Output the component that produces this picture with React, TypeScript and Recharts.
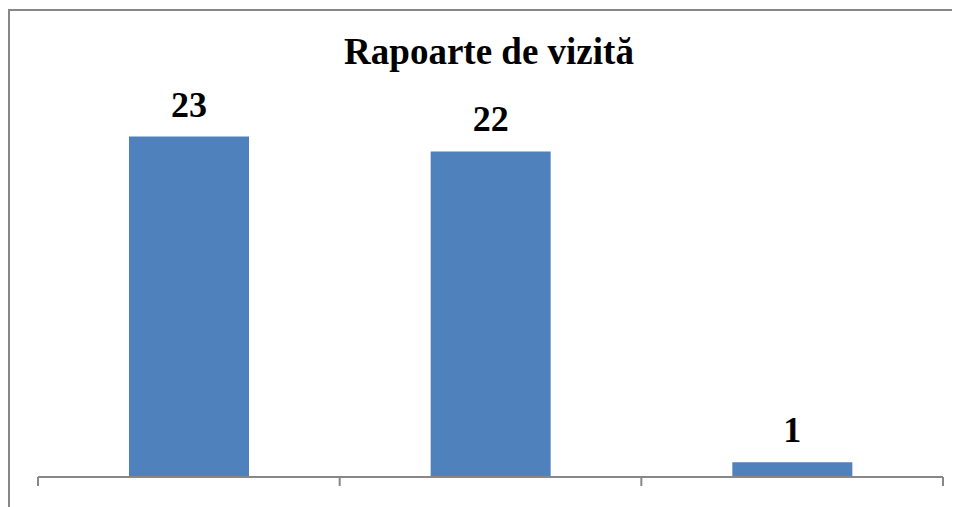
import React from "react";
import { BarChart, Bar, XAxis, YAxis, LabelList } from "recharts";

const categories = ["A", "B", "C"];
const values = [23, 22, 1];

const data = categories.map((name, i) => ({ name, value: values[i] }));

const serif = '"Liberation Serif", "Times New Roman", Times, serif';
const axisColor = "#878787";

const CHART_W = 950;
const MARGIN = { top: 96, right: 17, bottom: 10, left: 28 };
const BAND = (CHART_W - MARGIN.left - MARGIN.right) / categories.length;

// category ticks sit at band centres; the reference draws them on the band edges
const BoundaryTick = (props: any) => {
  const { x, y, index } = props;
  const left = x - BAND / 2;
  return (
    <g>
      <line x1={left} y1={y} x2={left} y2={y + 9} stroke={axisColor} strokeWidth={2} />
      {index === categories.length - 1 && (
        <line x1={x + BAND / 2} y1={y} x2={x + BAND / 2} y2={y + 9} stroke={axisColor} strokeWidth={2} />
      )}
    </g>
  );
};

export default function App() {
  return (
    <div
      style={{
        position: "relative",
        marginTop: 1,
        width: 960,
        height: 500,
        borderTop: `2px solid ${axisColor}`,
        borderLeft: `2px solid ${axisColor}`,
        boxSizing: "border-box",
        overflow: "hidden",
        background: "#fff",
      }}
    >
      <style>{`html, body { overflow: hidden; }`}</style>
      <div
        style={{
          position: "absolute",
          left: 179,
          top: 22,
          width: 600,
          textAlign: "center",
          fontFamily: serif,
          fontWeight: "bold",
          fontSize: 37,
          lineHeight: "37px",
          color: "#000",
        }}
      >
        Rapoarte de vizită
      </div>
      <BarChart width={CHART_W} height={488} data={data} margin={MARGIN}>
        <XAxis
          dataKey="name"
          height={12}
          stroke={axisColor}
          strokeWidth={2}
          tickLine={false}
          tickSize={0}
          tickMargin={0}
          tick={<BoundaryTick />}
          interval={0}
        />
        <YAxis hide domain={[0, 25]} />
        <Bar dataKey="value" fill="#4F81BD" barSize={120} isAnimationActive={false}>
          <LabelList
            dataKey="value"
            position="top"
            offset={20}
            fill="#000"
            style={{ fontFamily: serif, fontWeight: "bold", fontSize: 36 }}
          />
        </Bar>
      </BarChart>
    </div>
  );
}
